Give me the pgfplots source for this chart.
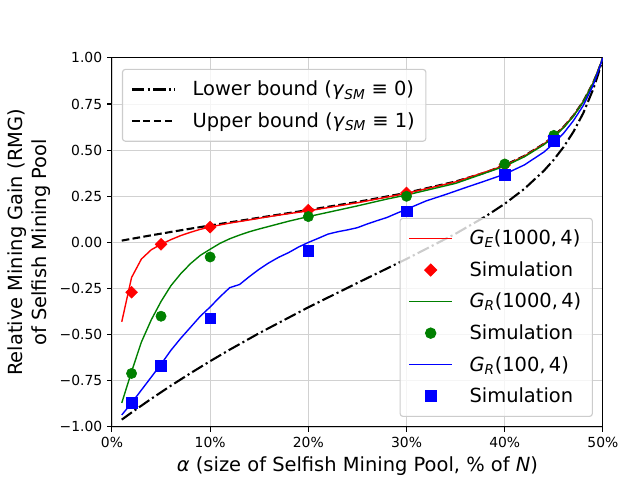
\documentclass[border=0pt]{standalone}
\usepackage{pgfplots}
\pgfplotsset{compat=1.18}
\usepackage{fontspec}
\setmainfont{DejaVu Sans}

\definecolor{mplred}{rgb}{1,0,0}
\definecolor{mplgreen}{rgb}{0,0.5,0}
\definecolor{mplblue}{rgb}{0,0,1}

\pgfplotsset{
  base/.style={
    width=353.5pt, height=265.7pt, scale only axis,
    xmin=0, xmax=50, ymin=-1, ymax=1,
    legend image code/.code={\draw[mark repeat=2,mark phase=2,opacity=1] plot coordinates {(0pt,0pt) (15.5pt,0pt) (31pt,0pt)};},
  },
  legbox/.style={legend style={font=\fontsize{14}{16}\selectfont, draw=black!20, line width=0.8pt, rounded corners=2pt,
      fill=white, fill opacity=0.8, text opacity=1, row sep=6.6pt, inner xsep=6pt, inner ysep=6.4pt,
      /tikz/every odd column/.append style={column sep=10pt}},
    legend cell align=left},
}

\begin{document}
\begin{tikzpicture}
\begin{axis}[base, legbox,
  axis line style={line width=0.8pt},
  tick style={line width=0.8pt, black},
  major tick length=3.5pt, tick align=outside,
  xtick pos=bottom, ytick pos=left,
  grid=major, major grid style={black!18, line width=0.6pt},
  xtick={0,10,20,30,40,50},
  xticklabels={0\%,10\%,20\%,30\%,40\%,50\%},
  ytick={-1,-0.75,-0.5,-0.25,0,0.25,0.5,0.75,1},
  yticklabels={−1.00,−0.75,−0.50,−0.25,0.00,0.25,0.50,0.75,1.00},
  tick label style={font=\fontsize{10}{12}\selectfont},
  label style={font=\fontsize{14}{17}\selectfont},
  xlabel={\textit{α} (size of Selfish Mining Pool, \% of \textit{N})},
  ylabel={Relative Mining Gain (RMG)\\of Selfish Mining Pool},
  ylabel style={align=center},
  legend style={at={(0,1)}, anchor=north west, xshift=7.2pt, yshift=-7.9pt},
]
\coordinate (SW) at (rel axis cs:0,0);
\addplot[black, line width=1.5pt, dash pattern=on 9pt off 2.4pt on 1.5pt off 2.4pt] coordinates {
(1,-0.9605) (2,-0.9219) (4,-0.8476) (6,-0.7766) (8,-0.7087) (10,-0.6436) (12,-0.5811)
(15,-0.4916) (20,-0.3516) (25,-0.2195) (30,-0.0896) (35,0.0472) (38,0.1394) (40,0.2093)
(42,0.2903) (44,0.3890) (45,0.4484) (46,0.5175) (47,0.5998) (48,0.7008) (49,0.8291) (49.5,0.9079) (50,1.0)};
\addlegendentry{Lower bound (\textit{γ}\textsubscript{\textit{SM}} ≡ 0)}
\addplot[black, line width=1.5pt, dash pattern=on 5.5pt off 2.4pt] coordinates {
(1,0.0099) (2,0.0196) (4,0.0385) (6,0.0568) (8,0.0746) (10,0.0919) (15,0.1341) (20,0.1758)
(25,0.2195) (30,0.2687) (35,0.3302) (38,0.3784) (40,0.4186) (42,0.4689) (44,0.5349) (45,0.5765)
(46,0.6264) (47,0.6875) (48,0.7644) (49,0.8644) (49.5,0.9266) (50,1.0)};
\addlegendentry{Upper bound (\textit{γ}\textsubscript{\textit{SM}} ≡ 1)}
\end{axis}

\begin{axis}[base, legbox, hide axis,
  legend style={at={(1,0)}, anchor=south east, xshift=-7.2pt, yshift=7.2pt},
]
\addplot[mplred, line width=1pt] coordinates {
(1,-0.43) (2,-0.19) (3,-0.09) (4,-0.04) (5,-0.01) (6,0.015) (7,0.037) (8,0.055) (9,0.071) (10,0.084)
(12,0.105) (14,0.122) (16,0.14) (18,0.156) (20,0.171) (25,0.215) (30,0.266) (35,0.328) (40,0.417)
(42,0.468) (44,0.534) (45,0.576) (46,0.626) (47,0.687) (48,0.764) (49,0.864) (50,1.0)};
\addlegendentry{\textit{G}\textsubscript{\textit{E}}(1000,\,4)}
\addplot[only marks, mark=square*, mark size=3.0pt, mark options={rotate=45, draw=mplred, fill=mplred}] coordinates {
(2,-0.27) (5,-0.01) (10,0.083) (20,0.175) (30,0.268) (40,0.42) (45,0.575)};
\addlegendentry{Simulation}
\addplot[mplgreen, line width=1pt] coordinates {
(1,-0.87) (2,-0.70) (3,-0.54) (4,-0.42) (5,-0.32) (6,-0.235) (7,-0.17) (8,-0.115) (9,-0.07) (10,-0.037)
(11,-0.005) (12,0.02) (13,0.04) (14,0.058) (15,0.073) (16,0.087) (18,0.115) (20,0.14) (22,0.163)
(25,0.198) (28,0.235) (30,0.257) (35,0.32) (40,0.413) (42,0.464) (44,0.53) (45,0.572) (46,0.622)
(47,0.684) (48,0.762) (49,0.863) (50,1.0)};
\addlegendentry{\textit{G}\textsubscript{\textit{R}}(1000,\,4)}
\addplot[only marks, mark=*, mark size=3.7pt, mark options={draw=mplgreen, fill=mplgreen}] coordinates {
(2,-0.71) (5,-0.40) (10,-0.079) (20,0.14) (30,0.25) (40,0.425) (45,0.58)};
\addlegendentry{Simulation}
\addplot[mplblue, line width=1pt] coordinates {
(1,-0.935) (2,-0.87) (3,-0.80) (4,-0.73) (5,-0.66) (6,-0.585) (7,-0.52) (8,-0.46) (9,-0.40) (10,-0.35)
(11,-0.295) (12,-0.245) (13,-0.228) (14,-0.185) (15,-0.145) (16,-0.11) (17,-0.08) (18,-0.055)
(19,-0.025) (20,0.0) (21,0.022) (22,0.045) (23,0.058) (24,0.068) (25,0.08) (26,0.1) (27,0.118)
(28,0.135) (29,0.158) (30,0.18) (32,0.225) (34,0.26) (36,0.297) (38,0.333) (40,0.37) (42,0.42)
(44,0.49) (45,0.537) (46,0.592) (47,0.66) (48,0.742) (49,0.85) (50,1.0)};
\addlegendentry{\textit{G}\textsubscript{\textit{R}}(100,\,4)}
\addplot[only marks, mark=square*, mark size=3.8pt, mark options={draw=mplblue, fill=mplblue}] coordinates {
(2,-0.87) (5,-0.67) (10,-0.41) (20,-0.044) (30,0.17) (40,0.366) (45,0.55)};
\addlegendentry{Simulation}
\end{axis}
\path (SW) ++(-80.6pt,-38.2pt) rectangle ++(460.8pt,345.6pt);
\end{tikzpicture}
\end{document}
